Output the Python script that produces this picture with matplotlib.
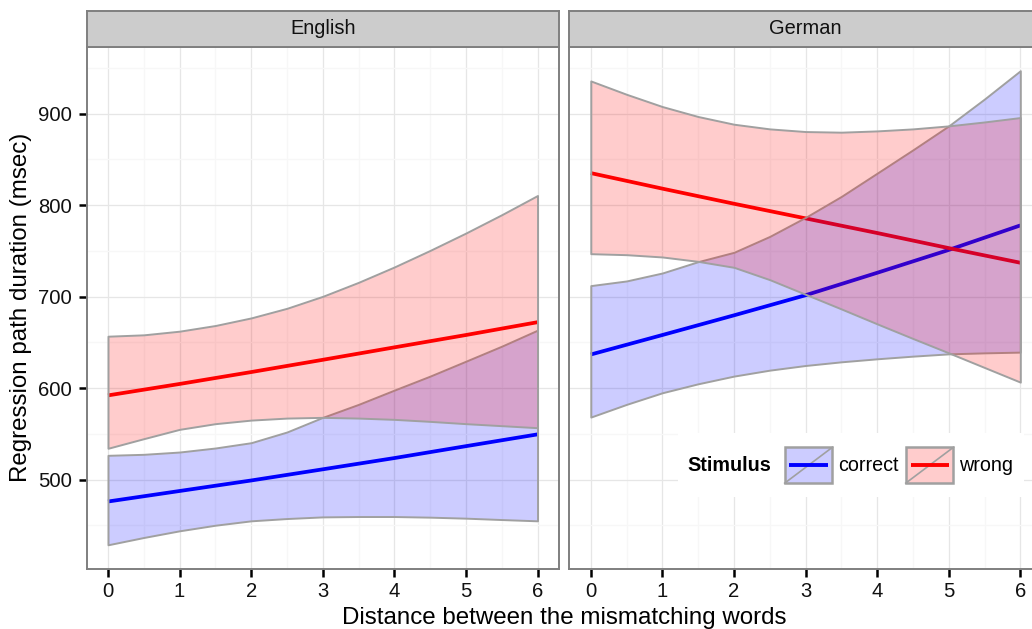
import matplotlib
matplotlib.use("Agg")
import matplotlib.pyplot as plt
from matplotlib.legend_handler import HandlerBase
from matplotlib.patches import Rectangle
from matplotlib.lines import Line2D

plt.rcParams['font.family'] = ['Liberation Sans', 'DejaVu Sans']

# ---- data -------------------------------------------------------------
panels = ["English", "German"]
stimuli = ["correct", "wrong"]

# distances at which the confidence band is evaluated
band_distance = [0, 0.5, 1, 1.5, 2, 2.5, 3, 3.5, 4, 4.5, 5, 5.5, 6]
# distances at which the fitted line is evaluated
fit_distance = [0, 1, 2, 3, 4, 5, 6]

# English
en_correct_fit = [476.0, 487.5, 499.0, 511.2, 523.5, 536.5, 549.4]
en_correct_lo = [428.7, 436.7, 444.0, 450.1, 454.9, 457.4, 459.2,
                 459.6, 459.6, 458.9, 457.8, 456.3, 454.9]
en_correct_hi = [526.5, 527.6, 530.1, 534.5, 540.3, 552.0, 568.0,
                 582.2, 597.8, 613.1, 629.4, 645.8, 663.3]
en_wrong_fit = [592.0, 604.5, 617.5, 630.9, 644.5, 658.0, 672.0]
en_wrong_lo = [534.2, 544.7, 554.9, 561.1, 565.0, 567.2, 568.0,
               567.2, 565.8, 563.6, 561.1, 558.9, 556.7]
en_wrong_hi = [656.7, 658.2, 662.2, 668.4, 676.7, 687.2, 700.3,
               715.6, 732.4, 750.5, 769.5, 789.5, 810.5]

# German
de_correct_fit = [636.7, 658.0, 679.5, 701.5, 726.0, 751.0, 777.8]
de_correct_lo = [568.3, 582.2, 594.9, 604.7, 613.1, 619.6, 624.7,
                 628.7, 632.0, 634.9, 637.4, 638.5, 639.3]
de_correct_hi = [712.0, 717.1, 725.8, 738.2, 748.4, 765.8, 786.6,
                 809.5, 834.9, 860.4, 886.6, 916.0, 946.9]
de_wrong_fit = [835.0, 818.0, 801.5, 785.5, 769.5, 753.0, 737.0]
de_wrong_lo = [746.9, 745.8, 743.3, 738.5, 732.0, 718.5, 702.5,
               686.5, 670.2, 654.2, 638.5, 622.5, 606.5]
de_wrong_hi = [935.7, 921.1, 907.7, 896.8, 888.4, 883.3, 880.4,
               879.7, 881.1, 883.3, 886.6, 890.9, 895.7]

x_ticks = [0, 1, 2, 3, 4, 5, 6]
y_ticks = [500, 600, 700, 800, 900]

series = {
    "English": {
        "correct": (en_correct_fit, en_correct_lo, en_correct_hi),
        "wrong": (en_wrong_fit, en_wrong_lo, en_wrong_hi),
    },
    "German": {
        "correct": (de_correct_fit, de_correct_lo, de_correct_hi),
        "wrong": (de_wrong_fit, de_wrong_lo, de_wrong_hi),
    },
}

line_colors = {"correct": "#0000FF", "wrong": "#FF0000"}
band_colors = {"correct": (0, 0, 1, 0.2), "wrong": (1, 0, 0, 0.2)}
key_fill = {"correct": "#CCCCFF", "wrong": "#FFCCCC"}
band_edge = "#A0A0A0"
border = "#7F7F7F"

# ---- layout (pixel boxes) ----------------------------------------------
W, H = 1032, 629
fig = plt.figure(figsize=(W / 100, H / 100), dpi=100)


def box(x0, y0, x1, y1):
    return [x0 / W, 1 - y1 / H, (x1 - x0) / W, (y1 - y0) / H]


panel_x = [(86.5, 559.0), (569.3, 1041.8)]
panel_y = (47.0, 568.5)
strip_y = (11.0, 47.0)

# shared y range with 5% expansion around the data
all_vals = [v for p in series.values() for s in p.values() for arr in s for v in arr]
lo, hi = min(all_vals), max(all_vals)
pad = 0.05 * (hi - lo)
ylim = (lo - pad, hi + pad)

for i, name in enumerate(panels):
    x0, x1 = panel_x[i]
    ax = fig.add_axes(box(x0, panel_y[0], x1, panel_y[1]))
    ax.set_xlim(-0.3, 6.3)
    ax.set_ylim(*ylim)
    ax.set_xticks(x_ticks)
    ax.set_xticks([t + 0.5 for t in x_ticks[:-1]], minor=True)
    ax.set_yticks(y_ticks)
    ax.set_yticks([t - 50 for t in y_ticks] + [y_ticks[-1] + 50], minor=True)
    ax.grid(which="major", color="#E6E6E6", lw=0.9)
    ax.grid(which="minor", color="#F7F7F7", lw=0.9)
    ax.set_axisbelow(True)
    for sp in ax.spines.values():
        sp.set_color(border)
        sp.set_linewidth(1.4)
    ax.tick_params(which="major", length=6, width=1.8, color="black",
                   labelsize=14.6, labelcolor="#111111")
    ax.tick_params(axis="x", pad=4.0)
    ax.tick_params(axis="y", pad=4.5)
    ax.tick_params(which="minor", length=0)
    if i > 0:
        ax.tick_params(axis="y", left=False, labelleft=False)

    # fitted lines first, confidence bands drawn over them
    for s in stimuli:
        fit, _, _ = series[name][s]
        ax.plot(fit_distance, fit, color=line_colors[s], lw=2.7, zorder=2,
                solid_capstyle="butt")
    for k, s in enumerate(stimuli):
        _, band_lo, band_hi = series[name][s]
        ax.fill_between(band_distance, band_lo, band_hi,
                        facecolor=band_colors[s], edgecolor=band_edge,
                        lw=1.4, zorder=3 + k)

    # facet strip
    sx = fig.add_axes(box(x0, strip_y[0], x1, strip_y[1]))
    sx.set_facecolor("#CCCCCC")
    sx.set_xticks([])
    sx.set_yticks([])
    for sp in sx.spines.values():
        sp.set_color(border)
        sp.set_linewidth(1.4)
    sx.text(0.5, 0.5, name, ha="center", va="center", fontsize=14.4,
            color="#111111", transform=sx.transAxes)

# axis titles
fig.text((panel_x[0][0] + panel_x[1][1]) / 2 / W, 1 - 624 / H,
         "Distance between the mismatching words", ha="center",
         va="baseline", fontsize=17.4)
fig.text(21.5 / W, 1 - (panel_y[0] + panel_y[1]) / 2 / H,
         "Regression path duration (msec)", rotation=90, ha="center",
         va="center", fontsize=17.4)


# ---- legend -----------------------------------------------------------
class RibbonKey:
    def __init__(self, fill, line):
        self.fill = fill
        self.line = line


class RibbonKeyHandler(HandlerBase):
    def create_artists(self, legend, orig_handle, xdescent, ydescent,
                       width, height, fontsize, trans):
        x0, y0 = -xdescent, -ydescent
        rect = Rectangle((x0, y0), width, height, facecolor=orig_handle.fill,
                         edgecolor=band_edge, lw=1.8, transform=trans)
        diag = Line2D([x0, x0 + width], [y0, y0 + height], color=band_edge,
                      lw=1.2, transform=trans)
        bar = Line2D([x0 + 0.1 * width, x0 + 0.9 * width],
                     [y0 + height / 2, y0 + height / 2],
                     color=orig_handle.line, lw=2.8, transform=trans,
                     solid_capstyle="butt")
        return [rect, diag, bar]


fig.patches.append(Rectangle((678 / W, 1 - 497 / H), (1024 - 678) / W,
                             (497 - 433) / H, transform=fig.transFigure,
                             facecolor="white", edgecolor="none", zorder=3))
fig.text(687.7 / W, 1 - 465.5 / H, "Stimulus", fontweight="bold",
         fontsize=14.2, ha="left", va="center", zorder=4)

handles = [RibbonKey(key_fill[s], line_colors[s]) for s in stimuli]
leg = fig.legend(handles, stimuli, handler_map={RibbonKey: RibbonKeyHandler()},
                 ncol=2, frameon=False, borderpad=0, borderaxespad=0,
                 handlelength=2.42, handleheight=2.42, handletextpad=0.3,
                 columnspacing=0.35, fontsize=14.2, loc="center left",
                 bbox_to_anchor=(784.7 / W, 1 - 465.2 / H),
                 bbox_transform=fig.transFigure)
leg.set_zorder(5)

fig.savefig("out.png", dpi=100)
